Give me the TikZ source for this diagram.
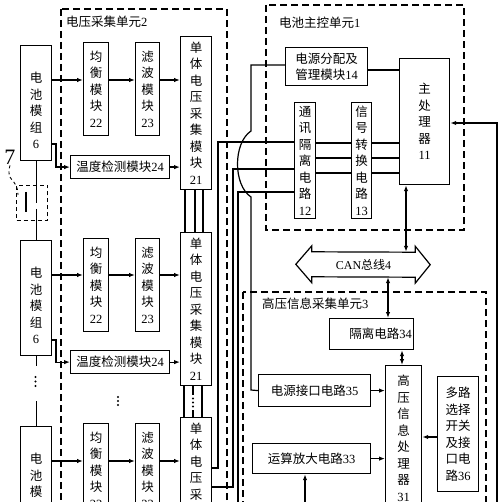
\documentclass[tikz,border=0pt]{standalone}
\usepackage{fontspec}
\setmainfont{Liberation Serif}
\newfontfamily\cjk{Noto Sans CJK SC}
\usetikzlibrary{arrows.meta}
\newcommand{\dgt}[1]{{\rmfamily #1}}
\tikzstyle{blk} = [draw=black, line width=1.2pt, fill=white, align=center, inner sep=1pt, anchor=north west, font={\cjk\fontsize{12.5}{16.5}\selectfont}]
\tikzstyle{lbl} = [anchor=west, inner sep=0pt, font={\cjk\fontsize{12.5}{16.5}\selectfont}]
\tikzstyle{unit} = [draw=black, line width=1.2pt, dash pattern=on 7pt off 4pt]
\tikzstyle{wire} = [line width=1.2pt]
\tikzstyle{arr} = [wire, -{Latex[length=6pt,width=4.5pt]}]
\tikzstyle{darr} = [wire, {Latex[length=6pt,width=4.5pt]}-{Latex[length=6pt,width=4.5pt]}]
\tikzstyle{dot} = [fill=black, circle, inner sep=0pt, minimum size=2.2pt]

\begin{document}
\begin{tikzpicture}[x=1pt,y=-1pt]
  \useasboundingbox (0,0) rectangle (500,502);
  \clip (0,0) rectangle (500,502);
  % units
  \draw[unit] (61,9) rectangle (227,540);
  \draw[unit] (266,5) rectangle (464,230);
  \draw[unit] (243,292) rectangle (486,540);
  \node[lbl] (u2) at (66,22) {电压采集单元\dgt{2}};
  \node[lbl] (u1) at (279,23) {电池主控单元\dgt{1}};
  \node[lbl] (u3) at (262,304) {高压信息采集单元\dgt{3}};

  % voltage unit, first row
  \node[blk, minimum width=31, minimum height=115] (bat1) at (20,45) {\rule{0pt}{25pt}电\\池\\模\\组\\\dgt{6}};
  \node[blk, minimum width=25, minimum height=93] (jh1) at (83,42) {均\\衡\\模\\块\\\dgt{22}};
  \node[blk, minimum width=24, minimum height=93] (lb1) at (135,42) {滤\\波\\模\\块\\\dgt{23}};
  \node[blk, minimum width=31, minimum height=153] (cj1) at (180,36) {单\\体\\电\\压\\采\\集\\模\\块\\\dgt{21}};
  \node[blk, minimum width=99, minimum height=23] (wd1) at (70,155) {温度检测模块\dgt{24}};
  % second row
  \node[blk, minimum width=31, minimum height=115] (bat2) at (20,240) {\rule{0pt}{25pt}电\\池\\模\\组\\\dgt{6}};
  \node[blk, minimum width=25, minimum height=93] (jh2) at (83,238) {均\\衡\\模\\块\\\dgt{22}};
  \node[blk, minimum width=24, minimum height=93] (lb2) at (135,238) {滤\\波\\模\\块\\\dgt{23}};
  \node[blk, minimum width=31, minimum height=153] (cj2) at (180,232) {单\\体\\电\\压\\采\\集\\模\\块\\\dgt{21}};
  \node[blk, minimum width=99, minimum height=23] (wd2) at (70,350) {温度检测模块\dgt{24}};
  % last row
  \node[blk, minimum width=31, minimum height=115] (bat3) at (20,426) {\rule{0pt}{25pt}电\\池\\模\\组\\\dgt{6}};
  \node[blk, minimum width=25, minimum height=93] (jh3) at (83,423) {均\\衡\\模\\块\\\dgt{22}};
  \node[blk, minimum width=24, minimum height=93] (lb3) at (135,423) {滤\\波\\模\\块\\\dgt{23}};
  \node[blk, minimum width=31, minimum height=153] (cj3) at (180,417) {单\\体\\电\\压\\采\\集\\模\\块\\\dgt{21}};

  \draw[arr] (bat1.east |- 0,80) -- (jh1.west |- 0,80);
  \draw[arr] (jh1.east |- 0,80) -- (lb1.west |- 0,80);
  \draw[arr] (lb1.east |- 0,80) -- (cj1.west |- 0,80);
  \draw[arr] (bat1.east |- 0,144) -- (56,144) |- (wd1.west);
  \draw[arr] (wd1.east) -- (wd1.east -| cj1.west);
  \draw[arr] (bat2.east |- 0,275) -- (jh2.west |- 0,275);
  \draw[arr] (jh2.east |- 0,275) -- (lb2.west |- 0,275);
  \draw[arr] (lb2.east |- 0,275) -- (cj2.west |- 0,275);
  \draw[arr] (bat2.east |- 0,340) -- (56,340) |- (wd2.west);
  \draw[arr] (wd2.east) -- (wd2.east -| cj2.west);
  \draw[arr] (bat3.east |- 0,461) -- (jh3.west |- 0,461);
  \draw[arr] (jh3.east |- 0,461) -- (lb3.west |- 0,461);
  \draw[arr] (lb3.east |- 0,461) -- (cj3.west |- 0,461);

  % cell modules chained
  \draw[wire] (185,0 |- cj1.south) -- (185,0 |- cj2.north);
  \draw[wire] (195,0 |- cj1.south) -- (195,0 |- cj2.north);
  \draw[wire] (203,0 |- cj1.south) -- (203,0 |- cj2.north);
  \draw[wire] (184,0 |- cj2.south) -- (184,0 |- cj3.north);
  \draw[wire] (202,0 |- cj2.south) -- (202,0 |- cj3.north);
  \draw[wire] (193,0 |- cj2.south) -- (193,395);
  \draw[wire] (193,410) -- (193,0 |- cj3.north);
  \node[dot] (d1) at (193,398.5) {};
  \node[dot] (d2) at (193,402.5) {};
  \node[dot] (d3) at (193,406.5) {};
  \node[dot] (d4) at (118,397) {};
  \node[dot] (d5) at (118,401) {};
  \node[dot] (d6) at (118,405) {};

  % battery string and switch 7
  \node[draw, line width=1pt, dash pattern=on 4pt off 3pt, minimum width=31, minimum height=35, inner sep=0pt, anchor=north west] (sw7) at (16,185) {};
  \draw[wire] (bat1.south) -- (bat1.south |- 0,203);
  \draw[wire] (26,192) -- (26,212);
  \draw[wire] (bat2.north |- 0,209) -- (bat2.north);
  \node[font=\fontsize{22}{22}\selectfont, inner sep=1pt] (lbl7) at (10,157) {7};
  \draw[dashed, line width=0.9pt] (lbl7.south) .. controls (5,182) and (18,178) .. ([xshift=2pt,yshift=-10pt]sw7.north west);
  \draw[wire] (bat2.south) -- (bat2.south |- 0,366);
  \draw[wire] (bat3.north |- 0,401) -- (bat3.north);
  \node[dot] (d7) at (35.5,377) {};
  \node[dot] (d8) at (35.5,381.5) {};
  \node[dot] (d9) at (35.5,386) {};

  % main control unit
  \node[blk, minimum width=82, minimum height=38] (pw14) at (285,47) {电源分配及\\管理模块\dgt{14}};
  \node[blk, minimum width=50, minimum height=126] (mp11) at (399,58) {主\\处\\理\\器\\\dgt{11}};
  \node[blk, minimum width=21, minimum height=116] (tx12) at (294,102) {通\\讯\\隔\\离\\电\\路\\\dgt{12}};
  \node[blk, minimum width=20, minimum height=116] (xh13) at (351,102) {信\\号\\转\\换\\电\\路\\\dgt{13}};
  \draw[wire] (pw14.east |- 0,70) -- (mp11.west |- 0,70);
  \draw[wire] (tx12.east |- 0,143) -- (xh13.west |- 0,143);
  \draw[wire] (tx12.east |- 0,158) -- (xh13.west |- 0,158);
  \draw[wire] (tx12.east |- 0,173) -- (xh13.west |- 0,173);
  \draw[wire] (xh13.east |- 0,143) -- (mp11.west |- 0,143);
  \draw[wire] (xh13.east |- 0,158) -- (mp11.west |- 0,158);
  \draw[wire] (xh13.east |- 0,173) -- (mp11.west |- 0,173);

  % CAN bus
  \node[inner sep=0pt, minimum width=103, minimum height=25, font={\cjk\fontsize{12}{14}\selectfont}] (can4) at (363.5,264.5) {\dgt{CAN}总线\dgt{4}};
  \draw[wire] (can4.north west) -- ++(0,-6) -- ++(-16,18.5) -- ++(16,18.5) -- ++(0,-6) -- (can4.south east) -- ++(0,6) -- ++(15,-18.5) -- ++(-15,-18.5) -- ++(0,6) -- cycle;

  % high voltage unit
  \node[blk, minimum width=84, minimum height=31] (gl34) at (329,318) {\hspace*{18pt}隔离电路\dgt{34}};
  \node[blk, minimum width=112, minimum height=32] (dy35) at (258,374) {电源接口电路\dgt{35}};
  \node[blk, minimum width=118, minimum height=30] (yf33) at (252,443) {运算放大电路\dgt{33}};
  \node[blk, minimum width=36, minimum height=145] (gy31) at (385,365) {高\\压\\信\\息\\处\\理\\器\\\dgt{31}};
  \node[blk, minimum width=41, minimum height=115] (dl36) at (437,376) {多路\\选择\\开关\\及接\\口电\\路\dgt{36}};
  \draw[darr] (406,0 |- mp11.south) -- (406,0 |- can4.north);
  \draw[darr] (388,0 |- can4.south) -- (388,0 |- gl34.north);
  \draw[darr] (402,0 |- gl34.south) -- (402,0 |- gy31.north);
  \draw[arr] (dy35.east) -- (dy35.east -| gy31.west);
  \draw[arr] (yf33.east) -- (yf33.east -| gy31.west);
  \draw[arr] (dl36.west |- 0,437) -- (gy31.east |- 0,437);
  \coordinate (yfin) at (305,540);
  \draw[arr] (yfin) -- (yfin |- yf33.south);
  \coordinate (mpin) at (497,540);
  \draw[arr] (mpin) |- (mp11.east |- 0,123);

  % links between units
  \draw[wire] (cj3.east |- 0,468) -| (218,142) -- (tx12.west |- 0,142);
  \draw[wire] (cj3.east |- 0,487) -| (233,169) -- (tx12.west |- 0,169);
  \coordinate (cjout) at (238,540);
  \draw[wire] (cjout) -- (238,192) -- (tx12.west |- 0,192);
  \draw[wire] (pw14.west |- 0,65) -- (251,65) -- (251,131) .. controls (233,143) and (233,185) .. (251,197) -- (251,390) -- (dy35.west);
\end{tikzpicture}
\end{document}
